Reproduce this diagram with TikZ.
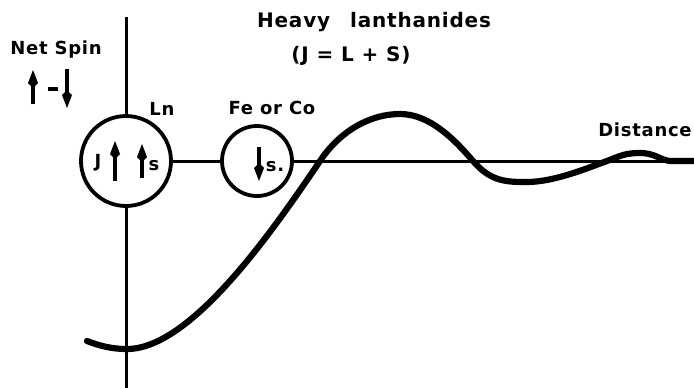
\documentclass[tikz,border=0pt]{standalone}
\usepackage{fontspec}
\setmainfont{DejaVu Sans}[LetterSpace=4]
\usetikzlibrary{arrows.meta,positioning,calc}
\definecolor{ink}{HTML}{000000}

\tikzset{
  lett/.style={font=\fontsize{18}{20}\selectfont\bfseries,text=ink,inner sep=0pt},
  bigl/.style={lett,font=\fontsize{20}{22}\selectfont\bfseries},
  atom/.style={draw=ink,circle,line width=3.8pt,inner sep=0pt},
  axis/.style={draw=ink,line width=3pt},
  spin/.style={draw=ink,line width=3.2pt,-{Kite[length=18pt,width=10pt,inset=5pt]}},
  exch/.style={draw=ink,line width=6.2pt,line cap=round}
}

\begin{document}
\begin{tikzpicture}[x=1pt,y=-1pt]
\useasboundingbox (0,0) rectangle (694,388);
% atoms on the distance axis
\node[atom,minimum size=90pt] (ln) at (126,161) {};
\node[atom,minimum size=70pt] (fe) at (257,161) {};
\coordinate (axtop) at (126,17);
\coordinate (axbot) at (126,388);
\coordinate (axend) at (694,161);
\draw[axis] (axtop) -- (ln);
\draw[axis] (ln) -- (axbot);
\draw[axis] (ln) -- (fe);
\draw[axis] (fe) -- (axend);
% labels
\node[bigl] (title) at (374,22) {Heavy\quad lanthanides};
\node[bigl] (rule) at (351,56) {(J = L + S)};
\node[lett] (net) at (56,50) {Net Spin};
\node[lett] (lnlab) at (162,109) {Ln};
\node[lett] (felab) at (272,108) {Fe or Co};
\node[lett] (dist) at (645,130) {Distance};
\node[lett] (jlab) at ($(ln.center)+(-28,2)$) {J};
\node[lett] (slab) at ($(ln.center)+(28,5)$) {s};
\node[lett] (sflab) at ($(fe.center)+(18,6)$) {s.};
% spins
\draw[spin] ($(ln.center)+(-11,20)$) -- ++(0,-40);
\draw[spin] ($(ln.center)+(16,17)$) -- ++(0,-34);
\draw[spin] ($(fe.center)+(2,-14)$) -- ++(0,34);
\draw[spin] (33,104) -- (33,70);
\draw[ink,line width=3.2pt] (48,89) -- (58,89);
\draw[spin] (67,69) -- (67,108);
% exchange curve
\draw[exch] (87,341) .. controls (100,346) and (112,349) .. (127,349)
  .. controls (190,349) and (270,235) .. (320,161)
  .. controls (340,131) and (370,114) .. (400,114)
  .. controls (430,114) and (455,140) .. (473,161)
  .. controls (491,182) and (507,182) .. (527,182)
  .. controls (555,182) and (590,167) .. (607,161)
  .. controls (620,156) and (625,153) .. (640,153)
  .. controls (655,153) and (660,160) .. (670,161) -- (694,161);
\end{tikzpicture}
\end{document}
